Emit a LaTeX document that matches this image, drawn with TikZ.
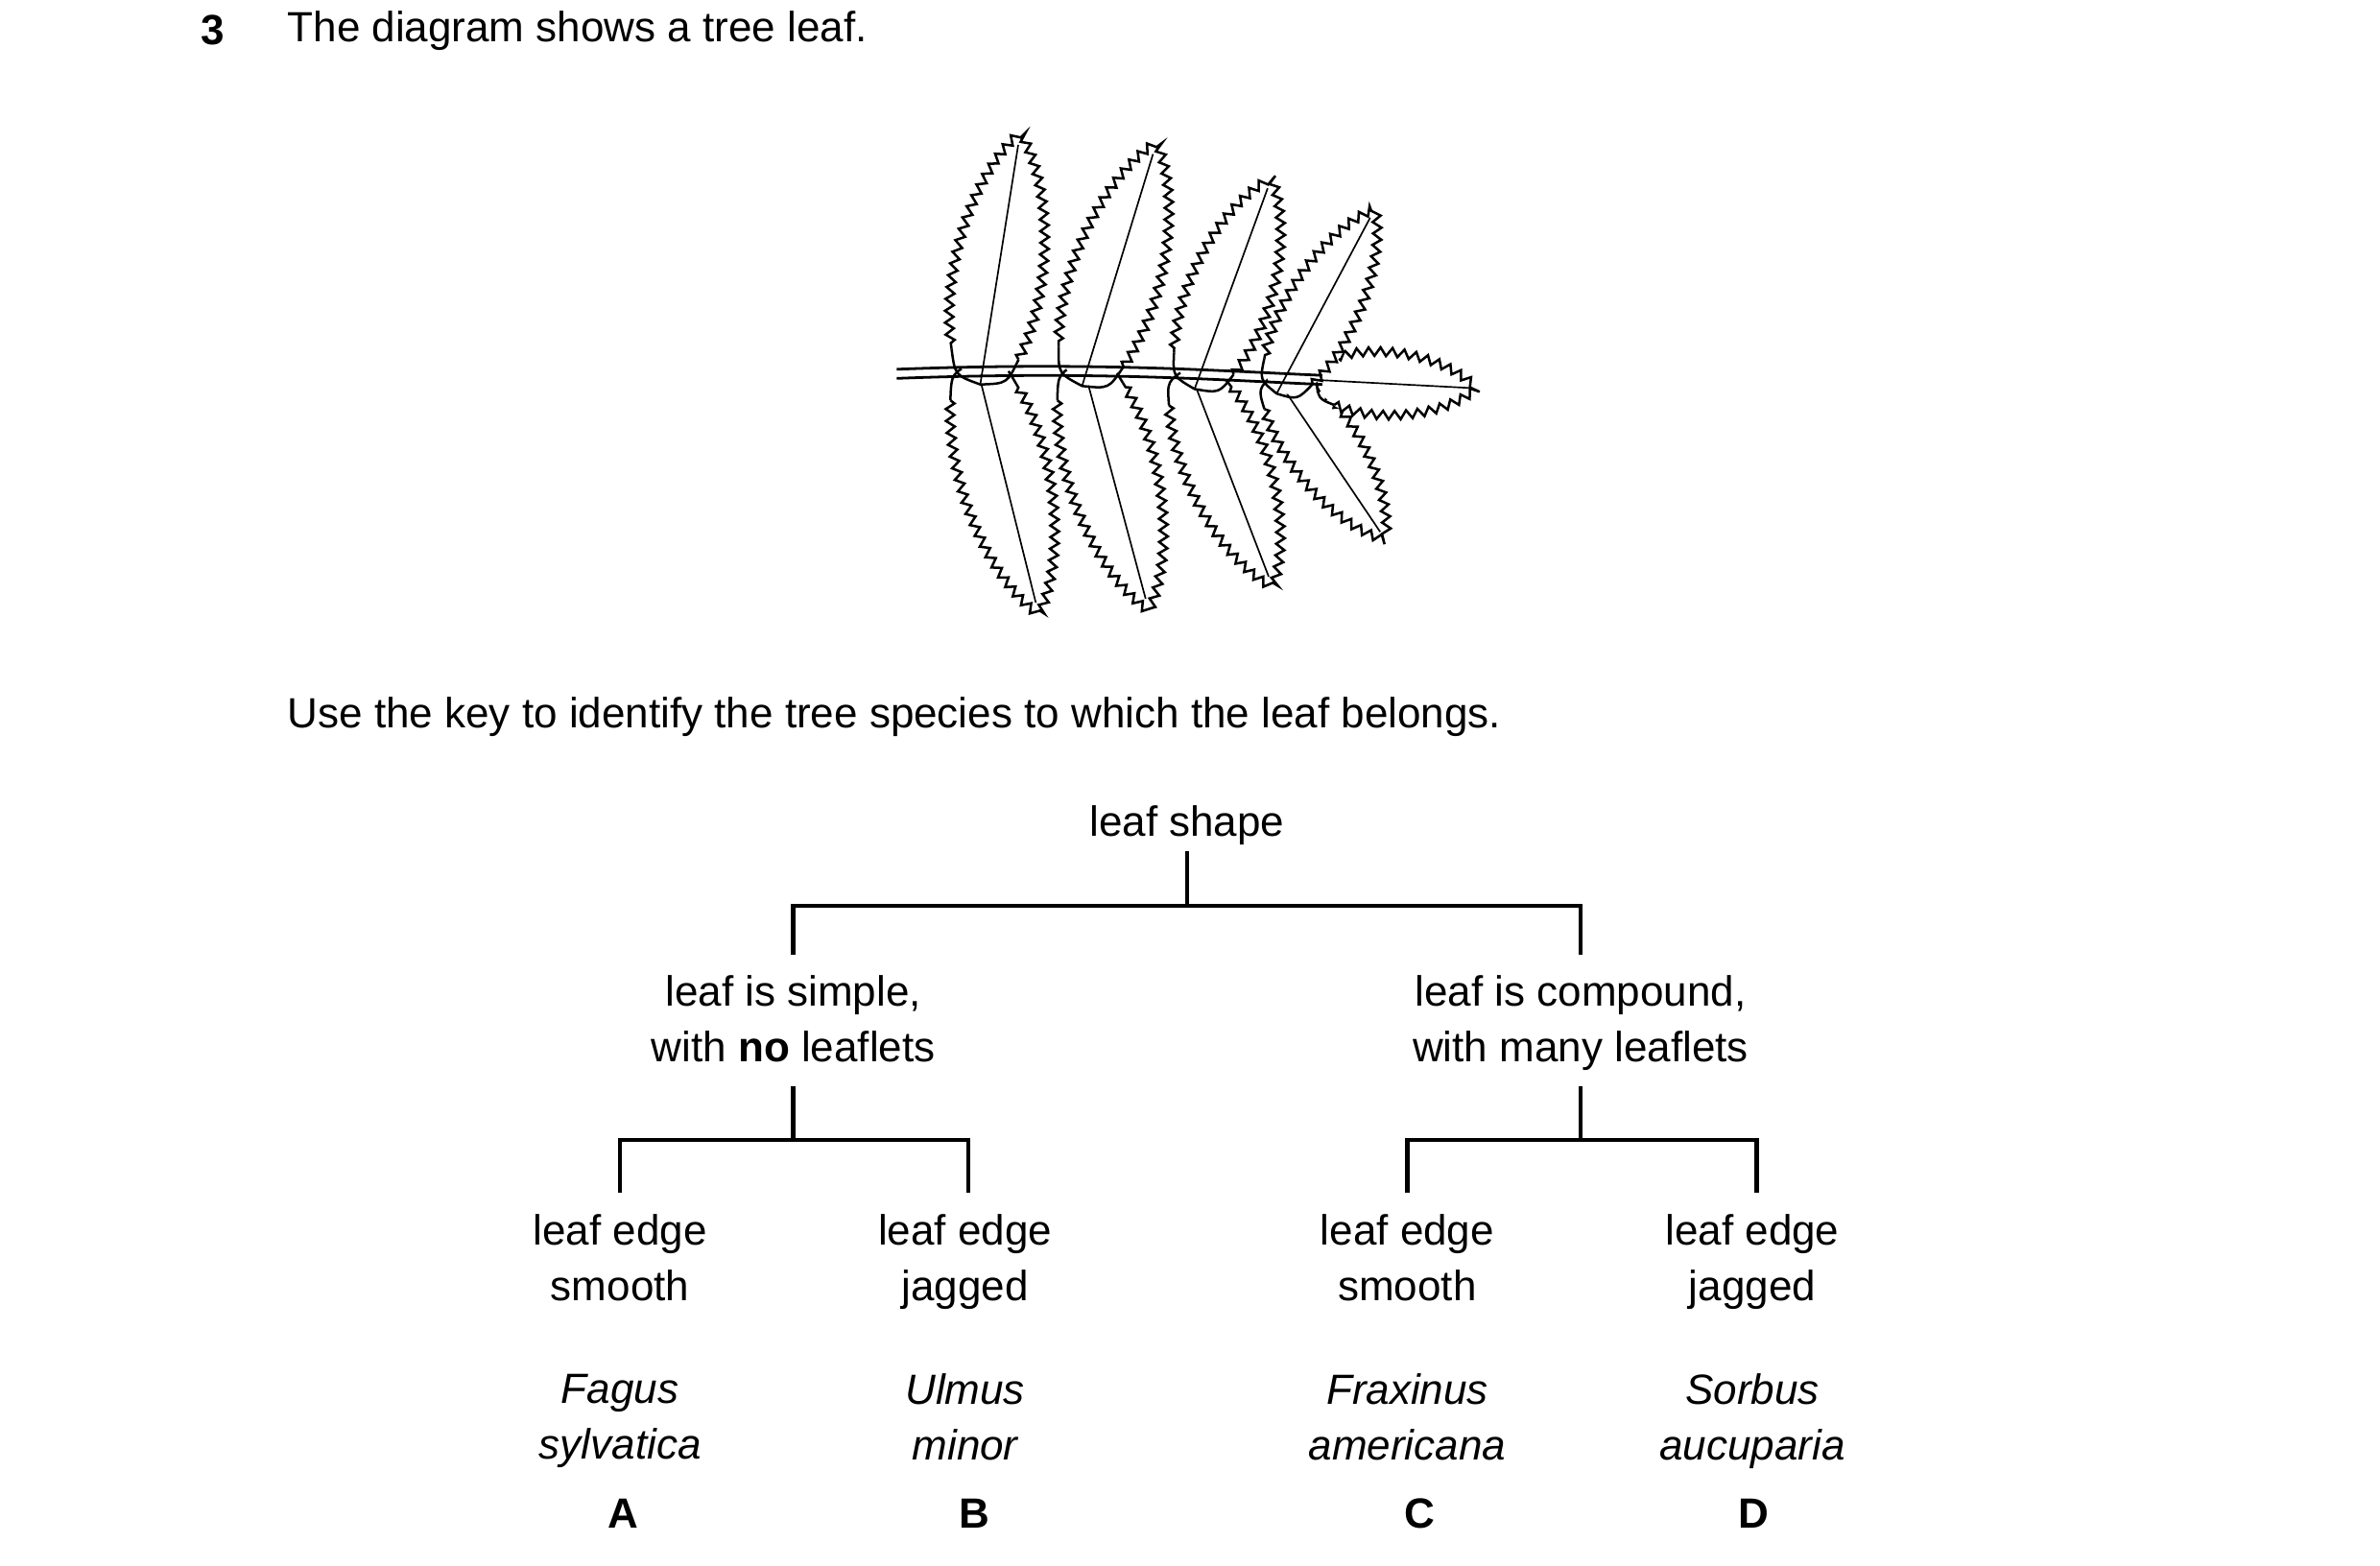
\documentclass[tikz,border=0pt]{standalone}
\usepackage{fontspec}
\setmainfont{Liberation Sans}
\usetikzlibrary{decorations.pathmorphing}
\tikzset{
  txt/.style={font=\fontsize{7.9}{10.4}\selectfont, align=center, inner sep=1pt},
  ktxt/.style={txt, anchor=north},
  key/.style={line width=0.8pt},
  edge/.style={decorate, decoration={zigzag, segment length=2.2pt, amplitude=0.8pt}},
}
% leaflet: base x, base y, angle, length, width
\newcommand{\leaflet}[5]{
  \begin{scope}[shift={(#1,#2)}, rotate=#3]
    \fill[white] (0,0) .. controls (0.1*#4,0.8*#5) and (0.75*#4,0.6*#5) .. (#4,0)
      .. controls (0.75*#4,-0.6*#5) and (0.1*#4,-0.8*#5) .. (0,0);
    \draw[edge, line width=0.45pt] (0.12*#4,0.36*#5) .. controls (0.4*#4,0.6*#5) and (0.8*#4,0.45*#5) .. (#4,0)
      .. controls (0.8*#4,-0.45*#5) and (0.4*#4,-0.6*#5) .. (0.12*#4,-0.36*#5);
    \draw[line width=0.45pt] (0.12*#4,0.36*#5) .. controls (0.02*#4,0.28*#5) .. (0,0)
      .. controls (0.02*#4,-0.28*#5) .. (0.12*#4,-0.36*#5);
    \draw[line width=0.3pt] (0,0) -- (0.95*#4,0);
  \end{scope}
}
\begin{document}
\begin{tikzpicture}[x=0.01cm, y=-0.01cm]
\useasboundingbox (0,0) rectangle (1566,1030);
% heading
\node[txt, font=\fontsize{7.9}{10.4}\selectfont\bfseries, anchor=west] (num) at (128,20) {3};
\node[txt, anchor=west] (intro) at (185,20) {The diagram shows a tree leaf.};
% leaf
\leaflet{642}{238}{-76}{172}{62}
\leaflet{712}{238}{-75}{170}{62}
\leaflet{782}{242}{-69}{155}{58}
\leaflet{838}{246}{-56}{132}{50}
\leaflet{866}{250}{-3}{106}{44}
\leaflet{645}{253}{81}{168}{62}
\leaflet{712}{254}{73}{168}{62}
\leaflet{786}{256}{70}{148}{58}
\leaflet{840}{259}{62}{138}{50}
\draw[line width=0.5pt] (590,243) .. controls (720,238) and (800,244) .. (870,247);
\draw[line width=0.5pt] (590,249) .. controls (720,244) and (800,250) .. (870,253);
\node[txt, anchor=west] (ask) at (185,472) {Use the key to identify the tree species to which the leaf belongs.};
% key
\node[ktxt] (shape) at (781,526) {leaf shape};
\node[ktxt] (simple) at (522,638) {leaf is simple,\\with \textbf{no} leaflets};
\node[ktxt] (compound) at (1040,638) {leaf is compound,\\with many leaflets};
\node[ktxt] (e1) at (408,795) {leaf edge\\smooth};
\node[ktxt] (e2) at (635,795) {leaf edge\\jagged};
\node[ktxt] (e3) at (926,795) {leaf edge\\smooth};
\node[ktxt] (e4) at (1153,795) {leaf edge\\jagged};
\node[ktxt, font=\fontsize{7.9}{10.4}\selectfont\itshape] (s1) at (408,900) {Fagus\\sylvatica};
\node[ktxt, font=\fontsize{7.9}{10.4}\selectfont\itshape] (s2) at (635,900) {Ulmus\\minor};
\node[ktxt, font=\fontsize{7.9}{10.4}\selectfont\itshape] (s3) at (926,900) {Fraxinus\\americana};
\node[ktxt, font=\fontsize{7.9}{10.4}\selectfont\itshape] (s4) at (1153,900) {Sorbus\\aucuparia};
\node[txt, font=\fontsize{7.9}{10.4}\selectfont\bfseries] (A) at (410,996) {A};
\node[txt, font=\fontsize{7.9}{10.4}\selectfont\bfseries] (B) at (641,996) {B};
\node[txt, font=\fontsize{7.9}{10.4}\selectfont\bfseries] (C) at (934,996) {C};
\node[txt, font=\fontsize{7.9}{10.4}\selectfont\bfseries] (D) at (1154,996) {D};
\coordinate (j0) at (781,596);
\coordinate (j1) at (522,750);
\coordinate (j2) at (1040,750);
\draw[key] (781,560) -- (j0);
\draw[key] (522,628) |- (j0) -| (1040,628);
\draw[key] (522,715) -- (j1);
\draw[key] (408,785) |- (j1) -| (637,785);
\draw[key] (1040,715) -- (j2);
\draw[key] (926,785) |- (j2) -| (1156,785);
\end{tikzpicture}
\end{document}
